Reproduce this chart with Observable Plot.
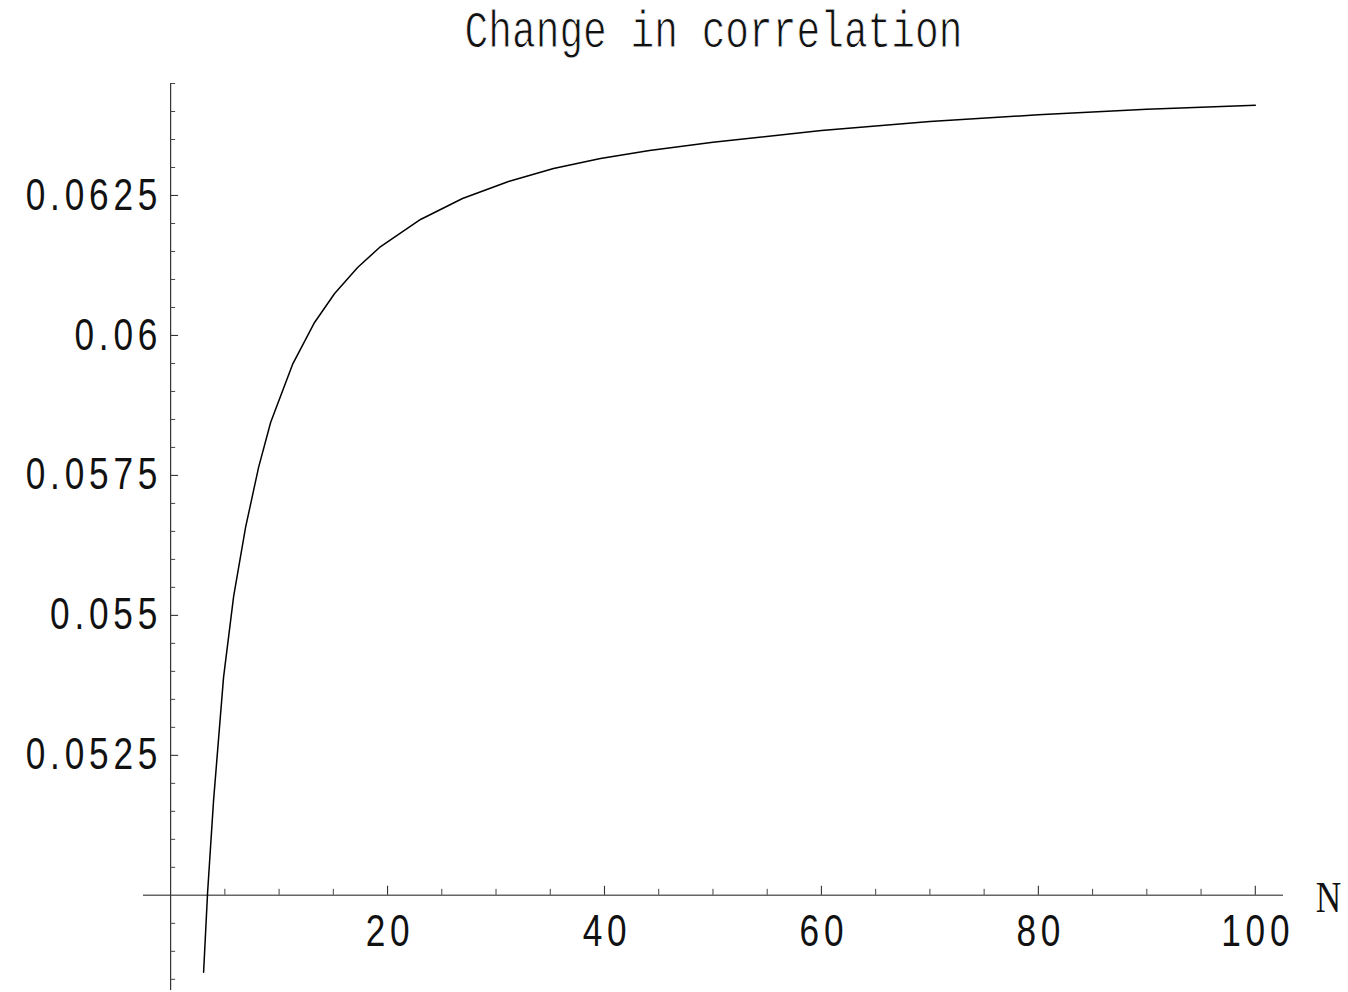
<!DOCTYPE html>
<html><head><meta charset="utf-8">
<script src="https://cdn.jsdelivr.net/npm/d3@7"></script>
<script src="https://cdn.jsdelivr.net/npm/@observablehq/plot@0.6"></script>
<style>body{margin:0;background:#fff} #chart svg{display:block}</style>
</head><body><div id="chart"></div>
<script>
// Data
const N    = [3.04, 3.41, 3.96, 4.88, 5.81, 6.91, 8.11, 9.22, 11.24, 13.27, 15.12, 17.24, 19.26, 23.04, 26.91, 31.15, 35.3, 39.63, 44.15, 50, 60, 70, 80, 90, 100];
const corr = [0.048625, 0.050054, 0.051696, 0.053893, 0.055339, 0.056571, 0.057643, 0.058446, 0.059482, 0.060232, 0.06075, 0.061214, 0.061571, 0.062071, 0.062446, 0.06275, 0.062982, 0.063161, 0.063304, 0.06345, 0.06366, 0.06382, 0.06394, 0.06404, 0.06411];

const xMajor = [20, 40, 60, 80, 100];
const xMajorLabels = ["20", "40", "60", "80", "100"];
const xMinor = [5, 10, 15, 25, 30, 35, 45, 50, 55, 65, 70, 75, 85, 90, 95];
const yMajor = [0.0525, 0.055, 0.0575, 0.06, 0.0625];
const yMajorLabels = ["0.0525", "0.055", "0.0575", "0.06", "0.0625"];
const yMinor = [0.0485, 0.049, 0.0495, 0.0505, 0.051, 0.0515, 0.052, 0.053, 0.0535, 0.054, 0.0545,
                0.0555, 0.056, 0.0565, 0.057, 0.058, 0.0585, 0.059, 0.0595, 0.0605, 0.061, 0.0615, 0.062,
                0.063, 0.0635, 0.064, 0.0645];
const xOrigin = 0, yOrigin = 0.05;
const title = "Change in correlation";
const xLabel = "N";

const data = N.map((n, i) => ({N: n, v: corr[i]}));
const xTicks = xMajor.map((d, i) => ({x: d, label: xMajorLabels[i]}));
const yTicks = yMajor.map((d, i) => ({y: d, label: yMajorLabels[i]}));

const tickFont = "Liberation Sans";
const monoFont = "Liberation Mono";

const plot = Plot.plot({
  width: 1348, height: 992,
  marginLeft: 143, marginRight: 65, marginTop: 83, marginBottom: 2,
  x: {domain: [-2.5, 102.6], axis: null},
  y: {domain: [0.0483, 0.0645], axis: null},
  style: {background: "#fff"},
  marks: [
    Plot.ruleY([yOrigin], {y: d => d, stroke: "#666", strokeWidth: 1.6}),
    Plot.ruleX([xOrigin], {x: d => d, stroke: "#333", strokeWidth: 1.2}),
    Plot.ruleX(xMinor, {x: d => d, y1: () => yOrigin, y2: () => yOrigin, insetTop: -6, stroke: "#444", strokeWidth: 1}),
    Plot.ruleX(xMajor, {x: d => d, y1: () => yOrigin, y2: () => yOrigin, insetTop: -9, stroke: "#333", strokeWidth: 1.1}),
    Plot.ruleY(yMinor, {y: d => d, x1: () => xOrigin, x2: () => xOrigin, insetRight: -5, stroke: "#444", strokeWidth: 1}),
    Plot.ruleY(yMajor, {y: d => d, x1: () => xOrigin, x2: () => xOrigin, insetRight: -8, stroke: "#333", strokeWidth: 1.1}),
    Plot.line(data, {x: "N", y: "v", stroke: "#000", strokeWidth: 1.5}),
    Plot.text(xTicks, {x: "x", y: () => yOrigin, text: "label", dx: 2.5, dy: 37, textAnchor: "middle", lineAnchor: "middle",
      fontFamily: tickFont, fontSize: 44, fill: "#111"}),
    Plot.text(yTicks, {x: () => xOrigin, y: "y", text: "label", dx: -8.5, textAnchor: "end", lineAnchor: "middle",
      fontFamily: tickFont, fontSize: 44, fill: "#111"}),
    Plot.text([title], {frameAnchor: "top", dy: -53, lineAnchor: "middle", fontFamily: monoFont, fontSize: 52,
      fill: "#111", stroke: "#fff", strokeWidth: 0.9, paintOrder: "normal"}),
    Plot.text([xLabel], {y: () => yOrigin, frameAnchor: "right", dx: 45, dy: 3, textAnchor: "middle", lineAnchor: "middle",
      fontFamily: "Liberation Serif", fontSize: 44, fill: "#111"})
  ]
});

// condense glyphs horizontally and space digits out, like the reference
plot.querySelectorAll("text").forEach(t => {
  const content = t.textContent;
  const isTick = content !== title && content !== xLabel;
  const sx = content === title ? 0.76 : 0.8;
  if (isTick) t.setAttribute("letter-spacing", "6");
  let tr = t.getAttribute("transform");
  if (!tr) {
    const x = t.getAttribute("x") || 0, y = t.getAttribute("y") || 0;
    t.removeAttribute("x"); t.removeAttribute("y");
    tr = `translate(${x},${y})`;
  }
  t.setAttribute("transform", tr + ` scale(${sx},1)`);
});

document.getElementById("chart").appendChild(plot);
</script>
</body></html>
